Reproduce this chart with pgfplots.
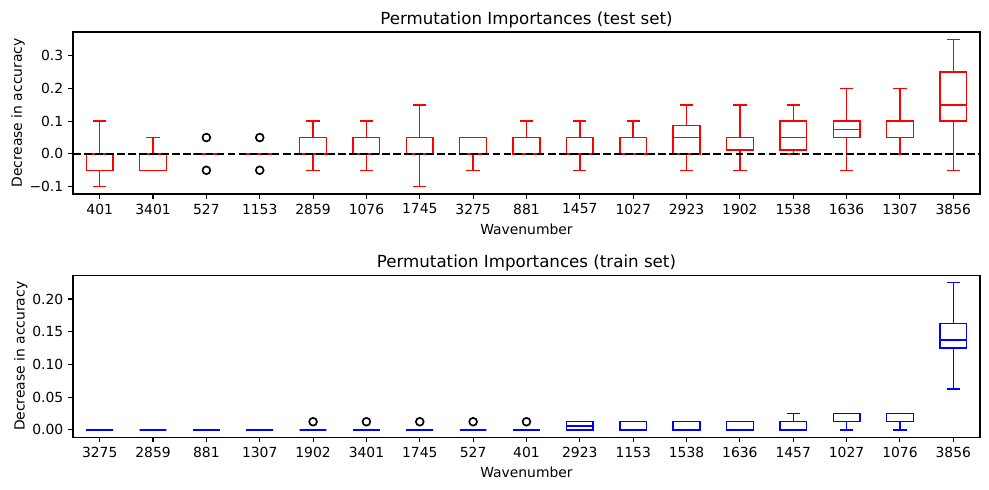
\documentclass[border=0pt]{standalone}
\usepackage{fontspec}
\setmainfont{DejaVu Sans}
\usepackage{pgfplots}
\pgfplotsset{compat=1.18}
\usepgfplotslibrary{statistics}
\pgfplotsset{
  mybase/.style={
    scale only axis, width=653pt, height=116.64pt,
    xmin=0.5, xmax=17.5, xtick={1,...,17},
    tick align=outside, major tick length=3.5pt,
    xtick pos=left, ytick pos=left,
    tick style={black, line width=0.8pt},
    axis line style={line width=0.8pt},
    tick label style={font=\fontsize{10}{12}\selectfont},
    label style={font=\fontsize{10}{12}\selectfont},
    title style={font=\fontsize{12}{14}\selectfont, yshift=-6.3pt},
    ylabel shift=-3.5pt,
    xlabel={Wavenumber}, ylabel={Decrease in accuracy},
    boxplot/draw direction=y,
    boxplot/box extend=0.5, boxplot/whisker extend=0.25,
  },
  bxs/.style={color=#1, solid, line width=1pt, mark=o, mark size=2.8pt,
    mark options={draw=black, line width=1.2pt, solid},
    boxplot/every box/.style={draw=#1, line width=1pt, solid},
    boxplot/every median/.style={draw=#1, line width=1pt, solid},
    boxplot/every whisker/.style={draw=#1, line width=1pt, solid}},
}
\newcommand{\rbox}[6]{\addplot[bxs=red, boxplot prepared={draw position=#1, lower whisker=#2, lower quartile=#3, median=#4, upper quartile=#5, upper whisker=#6}]}
\newcommand{\bbox}[6]{\addplot[bxs=blue, boxplot prepared={draw position=#1, lower whisker=#2, lower quartile=#3, median=#4, upper quartile=#5, upper whisker=#6}]}
\begin{document}
\begin{tikzpicture}
\useasboundingbox (0,0) rectangle (712.08pt,-352.8pt);
% ---------- top axis ----------
\begin{axis}[mybase, at={(52.56pt,-23.04pt)}, anchor=north west,
  title={Permutation Importances (test set)},
  ymin=-0.1225, ymax=0.3725,
  ytick={-0.1,0,0.1,0.2,0.3}, yticklabels={−0.1,0.0,0.1,0.2,0.3},
  xticklabels={401,3401,527,1153,2859,1076,1745,3275,881,1457,1027,2923,1902,1538,1636,1307,3856}]
\rbox{1}{-0.1}{-0.05}{-0.05}{0}{0.1} coordinates {};
\rbox{2}{-0.05}{-0.05}{-0.05}{0}{0.05} coordinates {};
\rbox{3}{0}{0}{0}{0}{0} coordinates {(3,0.05) (3,-0.05)};
\rbox{4}{0}{0}{0}{0}{0} coordinates {(4,0.05) (4,-0.05)};
\rbox{5}{-0.05}{0}{0}{0.05}{0.1} coordinates {};
\rbox{6}{-0.05}{0}{0}{0.05}{0.1} coordinates {};
\rbox{7}{-0.1}{0}{0}{0.05}{0.15} coordinates {};
\rbox{8}{-0.05}{0}{0}{0.05}{0.05} coordinates {};
\rbox{9}{0}{0}{0}{0.05}{0.1} coordinates {};
\rbox{10}{-0.05}{0}{0}{0.05}{0.1} coordinates {};
\rbox{11}{0}{0}{0}{0.05}{0.1} coordinates {};
\rbox{12}{-0.05}{0}{0.05}{0.0875}{0.15} coordinates {};
\rbox{13}{-0.05}{0.0125}{0.05}{0.05}{0.15} coordinates {};
\rbox{14}{0}{0.0125}{0.05}{0.1}{0.15} coordinates {};
\rbox{15}{-0.05}{0.05}{0.075}{0.1}{0.2} coordinates {};
\rbox{16}{0}{0.05}{0.05}{0.1}{0.2} coordinates {};
\rbox{17}{-0.05}{0.1}{0.15}{0.25}{0.35} coordinates {};
\addplot[black, line width=1.5pt, dash pattern=on 5.55pt off 2.4pt] coordinates {(0.5,0) (17.5,0)};
\end{axis}
% ---------- bottom axis ----------
\begin{axis}[mybase, at={(52.56pt,-198.2pt)}, anchor=north west,
  title={Permutation Importances (train set)},
  ymin=-0.01125, ymax=0.23625,
  ytick={0,0.05,0.1,0.15,0.2}, yticklabels={0.00,0.05,0.10,0.15,0.20},
  xticklabels={3275,2859,881,1307,1902,3401,1745,527,401,2923,1153,1538,1636,1457,1027,1076,3856}]
\bbox{1}{0}{0}{0}{0}{0} coordinates {};
\bbox{2}{0}{0}{0}{0}{0} coordinates {};
\bbox{3}{0}{0}{0}{0}{0} coordinates {};
\bbox{4}{0}{0}{0}{0}{0} coordinates {};
\bbox{5}{0}{0}{0}{0}{0} coordinates {(5,0.0125)};
\bbox{6}{0}{0}{0}{0}{0} coordinates {(6,0.0125)};
\bbox{7}{0}{0}{0}{0}{0} coordinates {(7,0.0125)};
\bbox{8}{0}{0}{0}{0}{0} coordinates {(8,0.0125)};
\bbox{9}{0}{0}{0}{0}{0} coordinates {(9,0.0125)};
\bbox{10}{0}{0}{0.00625}{0.0125}{0.0125} coordinates {};
\bbox{11}{0}{0}{0}{0.0125}{0.0125} coordinates {};
\bbox{12}{0}{0}{0}{0.0125}{0.0125} coordinates {};
\bbox{13}{0}{0}{0}{0.0125}{0.0125} coordinates {};
\bbox{14}{0}{0}{0}{0.0125}{0.025} coordinates {};
\bbox{15}{0}{0.0125}{0.025}{0.025}{0.025} coordinates {};
\bbox{16}{0}{0.0125}{0.025}{0.025}{0.025} coordinates {};
\bbox{17}{0.0625}{0.125}{0.1375}{0.1625}{0.225} coordinates {};
\end{axis}
\end{tikzpicture}
\end{document}
